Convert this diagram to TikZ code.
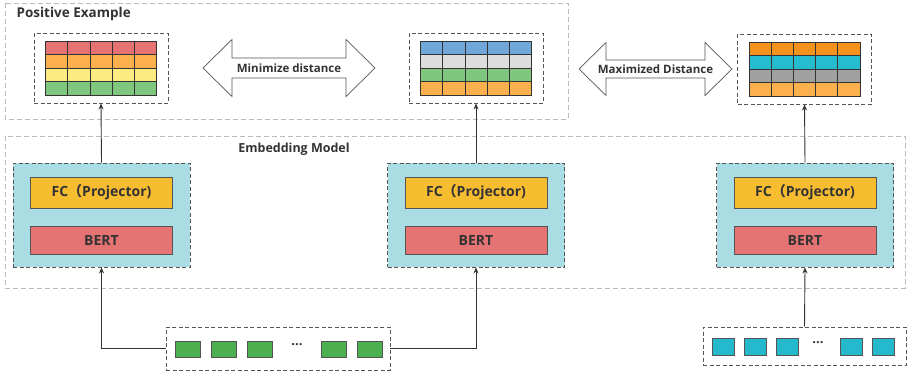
\documentclass[tikz,border=0pt]{standalone}
\usepackage{fontspec}
\setmainfont{Open Sans}
\newfontfamily\cjk{Noto Sans CJK SC}
\usetikzlibrary{arrows.meta,calc}
\definecolor{txt}{HTML}{333333}
\definecolor{lgray}{HTML}{BBBBBB}
\definecolor{dgray}{HTML}{555555}
\definecolor{cRed}{HTML}{E57373}
\definecolor{cOrange}{HTML}{FBB04D}
\definecolor{cYellow}{HTML}{FCEB80}
\definecolor{cGreen}{HTML}{7FC77F}
\definecolor{cBlue}{HTML}{6FA8D8}
\definecolor{cLight}{HTML}{DDDDDD}
\definecolor{cDOrange}{HTML}{F5921E}
\definecolor{cCyan}{HTML}{26BCD0}
\definecolor{cGray}{HTML}{A0A0A0}
\definecolor{modelfill}{HTML}{A9DCE3}
\definecolor{fcfill}{HTML}{F6BD31}
\definecolor{bertfill}{HTML}{E57373}
\definecolor{sqgreen}{HTML}{4CAF50}
\definecolor{sqcyan}{HTML}{25B9CE}
\tikzset{
  x=1pt, y=-1pt,
  every node/.style={text=txt, font=\bfseries},
  outerbox/.style={draw=lgray, dash pattern=on 5pt off 3pt, line width=0.8pt},
  tabframe/.style={draw=dgray, dash pattern=on 4pt off 2.5pt, line width=0.9pt, minimum width=134pt, minimum height=70pt, inner sep=0pt},
  modelbox/.style={draw=dgray, fill=modelfill, dash pattern=on 4pt off 2.5pt, line width=0.9pt, minimum width=177pt, minimum height=104pt, inner sep=0pt},
  fcbox/.style={draw=dgray, fill=fcfill, line width=0.7pt, minimum width=142pt, minimum height=31pt, inner sep=0pt, font=\bfseries\fontsize{14}{16}\selectfont},
  bertbox/.style={draw=dgray, fill=bertfill, line width=0.7pt, minimum width=142pt, minimum height=28pt, inner sep=0pt, font=\bfseries\fontsize{14}{16}\selectfont},
  inbox/.style={draw=dgray, dash pattern=on 4pt off 2.5pt, line width=0.9pt, inner sep=0pt},
  sq/.style={draw=dgray, line width=0.8pt, inner sep=0pt},
  conn/.style={draw=txt, line width=0.9pt, -{Stealth[length=6pt,width=5pt]}},
  bigarrow/.style={draw=dgray, fill=white, line width=0.7pt},
  arrowtext/.style={font=\bfseries\fontsize{11.5}{13}\selectfont},
  dotstext/.style={font=\bfseries\fontsize{13}{14}\selectfont},
}
\newcommand\drawtable[5]{% #1 node name, #2-#5 row colours
  \foreach \c [count=\r from 0] in {#2,#3,#4,#5}{
    \foreach \k in {0,...,4}{
      \path[fill=\c, draw=txt, line width=0.8pt]
        ($(#1.center)+(-55.5+\k*22.2,-27+\r*13.5)$) rectangle ++(22.2,13.5);
    }
  }
}
\newcommand\dblarrow[6]{% x1 x2 y headlen headhalf shafthalf
  \path[bigarrow] (#1,#3) -- (#1+#4,#3-#5) -- (#1+#4,#3-#6) -- (#2-#4,#3-#6) -- (#2-#4,#3-#5) -- (#2,#3)
    -- (#2-#4,#3+#5) -- (#2-#4,#3+#6) -- (#1+#4,#3+#6) -- (#1+#4,#3+#5) -- cycle;
}
\begin{document}
\begin{tikzpicture}
\useasboundingbox (0,0) rectangle (907,375);
% outer containers
\draw[outerbox] (5,3) rectangle (568,119);
\node[anchor=west, font=\bfseries\fontsize{13.5}{15}\selectfont] (pos) at (13,14) {Positive Example};
\draw[outerbox] (5,136) rectangle (905,288);
\node[font=\bfseries\fontsize{12.5}{14}\selectfont] (emb) at (294,149) {Embedding Model};

% tables
\node[tabframe] (t1) at (101,68) {};
\node[tabframe] (t2) at (476,68) {};
\node[tabframe] (t3) at (804.5,69) {};
\drawtable{t1}{cRed}{cOrange}{cYellow}{cGreen}
\drawtable{t2}{cBlue}{cLight}{cGreen}{cOrange}
\drawtable{t3}{cDOrange}{cCyan}{cGray}{cOrange}

% big arrows
\dblarrow{203}{375}{68}{29}{28.5}{10}
\node[arrowtext] (a1) at (289,68) {Minimize distance};
\dblarrow{579}{732}{69}{27}{26.5}{9}
\node[arrowtext] (a2) at (655.5,69) {Maximized Distance};

% model boxes
\foreach \n/\x in {1/101.5, 2/476, 3/805}{
  \node[modelbox] (m\n) at (\x,215) {};
  \node[fcbox] (fc\n) at (\x,192.5) {FC{\cjk （}Projector)};
  \node[bertbox] (b\n) at (\x,240) {BERT};
}

% inputs
\node[inbox, minimum width=224pt, minimum height=43pt] (in1) at (278,348.5) {};
\foreach \x [count=\i] in {187.5,223.5,259.5,333.5,369.5}{
  \node[sq, fill=sqgreen, minimum width=25pt, minimum height=16pt] (g\i) at (\x,349) {};
}
\node[dotstext] (dots1) at (297,345) {...};
\node[inbox, minimum width=203pt, minimum height=38pt] (in2) at (804.5,346) {};
\foreach \x [count=\i] in {723,755,787,851.5,883}{
  \node[sq, fill=sqcyan, minimum width=22pt, minimum height=17pt] (c\i) at (\x,346.5) {};
}
\node[dotstext] (dots2) at (818,342.5) {...};

% connectors
\draw[conn] (m1.north) -- (t1.south);
\draw[conn] (m2.north) -- (t2.south);
\draw[conn] (m3.north) -- (t3.south);
\draw[conn] (in1.west) -| (m1.south);
\draw[conn] (in1.east) -| (m2.south);
\draw[conn] (in2.north) -- (m3.south);
\end{tikzpicture}
\end{document}
